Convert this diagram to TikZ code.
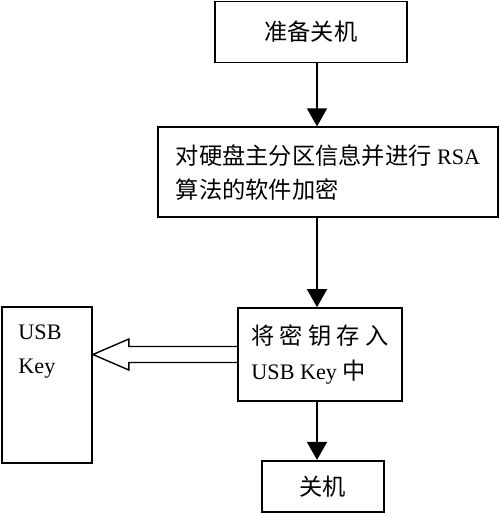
\documentclass[tikz,border=0pt]{standalone}
\usepackage{fontspec}
\setmainfont{Liberation Serif}
\newfontfamily\cjk[Scale=1.05]{Noto Sans CJK SC}
\usetikzlibrary{arrows.meta,positioning}
\usetikzlibrary{calc}

\begin{document}
\begin{tikzpicture}[
	    auto,
	    onlytext/.style={align=left, inner sep=0, font=\fontsize{12.6}{19.4}\selectfont},
	    box/.style={rectangle, draw, line width=1pt, align=left, font=\fontsize{12.6}{19.4}\selectfont},
	    normalline/.style={-{Triangle[length=0.36cm, width=0.4cm]}, line width=1pt},
	    hollowarrow/.style={line width=0.8pt, line join=miter},
	]
	\useasboundingbox (0,0) rectangle (10,10.32);

	\node[box, minimum width=3.84cm, minimum height=1.22cm] (prepare) at (6.22,9.68) {\cjk 准备关机};
	\node[box, minimum width=6.8cm, minimum height=1.8cm, below=1.26cm of prepare, xshift=0.34cm] (encrypt) {{\cjk 对硬盘主分区信息并进行} RSA\\{\cjk 算法的软件加密}};
	\node[box, minimum width=3.28cm, minimum height=1.86cm, below=1.78cm of encrypt, xshift=-0.16cm] (store) {{\cjk 将 密 钥 存 入}\\USB Key {\cjk 中}};
	\node[box, minimum width=2.44cm, minimum height=1.02cm, below=1.16cm of store, xshift=0.06cm] (shutdown) {\cjk 关机};

	% ------------ USB Key

	\node[box, minimum width=1.8cm, minimum height=3.12cm] (usbkey) at (0.94,2.62) {};
	\node[onlytext, anchor=north west] (usblabel) at ([xshift=0.34cm, yshift=-0.36cm]usbkey.north west) {USB\\Key};

	% ------------ arrows

	\coordinate (spine) at (6.34,0);
	\draw [normalline] (prepare.south -| spine) -- (encrypt.north -| spine);
	\draw [normalline] (encrypt.south -| spine) -- (store.north -| spine);
	\draw [normalline] (store.south -| spine) -- (shutdown.north -| spine);

	\path let \p1 = (usbkey.east), \p2 = (store.west) in [hollowarrow, draw] (\x2,{\y2+0.16cm}) -- ({\x1+0.72cm},{\y2+0.16cm}) -- ({\x1+0.72cm},{\y2+0.31cm}) -- (\x1,\y2) -- ({\x1+0.72cm},{\y2-0.31cm}) -- ({\x1+0.72cm},{\y2-0.16cm}) -- (\x2,{\y2-0.16cm});

\end{tikzpicture}
\end{document}
